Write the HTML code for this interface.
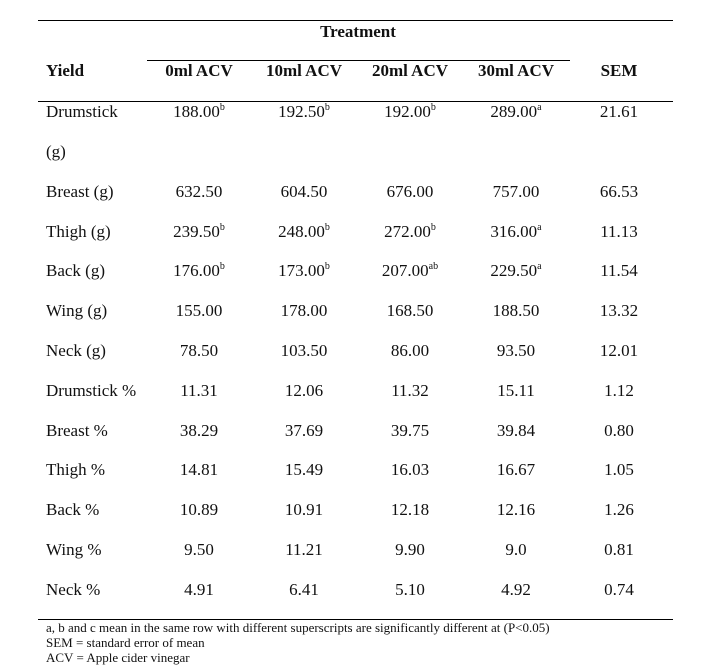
<!DOCTYPE html>
<html><head><style>
body{margin:0;width:719px;height:672px;background:#fff;position:relative;font-family:"Liberation Serif",serif;color:#111;overflow:hidden}
.l{position:absolute;height:1px;background:#000}
.t{position:absolute;font-size:17px;line-height:20px;white-space:nowrap}
.c{transform:translateX(-50%)}
b{font-weight:bold}
sup{font-size:10px;vertical-align:0;position:relative;top:-7px}
.f{position:absolute;left:46px;font-size:13px;line-height:15px;white-space:nowrap}
</style></head><body>
<div class="l" style="left:38px;width:635px;top:20px"></div>
<div class="l" style="left:147px;width:423px;top:60px"></div>
<div class="l" style="left:38px;width:635px;top:101px"></div>
<div class="l" style="left:38px;width:635px;top:619px"></div>
<div class="t c" style="left:358px;top:22px"><b>Treatment</b></div>
<div class="t" style="left:46px;top:61px"><b>Yield</b></div>
<div class="t c" style="left:199px;top:61px"><b>0ml ACV</b></div>
<div class="t c" style="left:304px;top:61px"><b>10ml ACV</b></div>
<div class="t c" style="left:410px;top:61px"><b>20ml ACV</b></div>
<div class="t c" style="left:516px;top:61px"><b>30ml ACV</b></div>
<div class="t c" style="left:619px;top:61px"><b>SEM</b></div>
<div id="rows"></div>
<script>
var r=[[111,"Drumstick","188.00<sup>b</sup>","192.50<sup>b</sup>","192.00<sup>b</sup>","289.00<sup>a</sup>","21.61"],
[151,"(g)","","","","",""],
[191,"Breast (g)","632.50","604.50","676.00","757.00","66.53"],
[231,"Thigh (g)","239.50<sup>b</sup>","248.00<sup>b</sup>","272.00<sup>b</sup>","316.00<sup>a</sup>","11.13"],
[270,"Back (g)","176.00<sup>b</sup>","173.00<sup>b</sup>","207.00<sup>ab</sup>","229.50<sup>a</sup>","11.54"],
[310,"Wing (g)","155.00","178.00","168.50","188.50","13.32"],
[350,"Neck (g)","78.50","103.50","86.00","93.50","12.01"],
[390,"Drumstick %","11.31","12.06","11.32","15.11","1.12"],
[430,"Breast %","38.29","37.69","39.75","39.84","0.80"],
[469,"Thigh %","14.81","15.49","16.03","16.67","1.05"],
[509,"Back %","10.89","10.91","12.18","12.16","1.26"],
[549,"Wing %","9.50","11.21","9.90","9.0","0.81"],
[589,"Neck %","4.91","6.41","5.10","4.92","0.74"]];
var xs=[199,304,410,516,619],h="";
r.forEach(function(a){var y=a[0]-9;h+='<div class="t" style="left:46px;top:'+y+'px">'+a[1]+'</div>';
for(var i=0;i<5;i++)if(a[i+2])h+='<div class="t c" style="left:'+xs[i]+'px;top:'+y+'px">'+a[i+2]+'</div>';});
document.getElementById("rows").innerHTML=h;
</script>
<div class="f" style="top:620px">a, b and c mean in the same row with different superscripts are significantly different at (P&lt;0.05)</div>
<div class="f" style="top:635px">SEM = standard error of mean</div>
<div class="f" style="top:650px">ACV = Apple cider vinegar</div>
</body></html>
